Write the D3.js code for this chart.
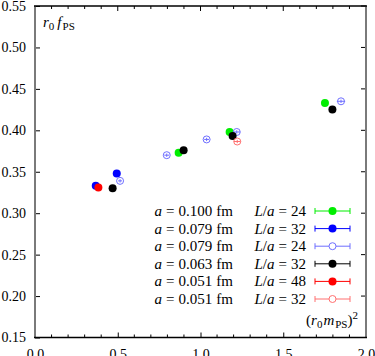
<!DOCTYPE html>
<html>
<head>
<meta charset="utf-8">
<script src="https://cdn.jsdelivr.net/npm/d3@7"></script>
<style>
  html, body { margin: 0; padding: 0; background: #fff; }
  svg { display: block; font-family: "Liberation Serif", "DejaVu Serif", serif; }
</style>
</head>
<body>
<div id="chart"></div>
<script>
// r0 fPS vs (r0 mPS)^2, one series per ensemble
const spacings = ["0.100", "0.079", "0.079", "0.063", "0.051", "0.051"];
const boxSizes = ["24", "32", "24", "32", "48", "32"];
const colors = ["#00ee00", "#0000ff", "#6f6fff", "#000000", "#ff0000", "#ff7070"];
const filled = [true, true, false, true, true, false];

const xValues = [
    [0.868, 1.176, 1.752],
    [0.367, 0.494],
    [0.514, 0.796, 1.037, 1.219, 1.849],
    [0.469, 0.898, 1.194, 1.797],
    [0.383],
    [1.222]
];
const yValues = [
    [0.373, 0.398, 0.433],
    [0.333, 0.348],
    [0.339, 0.370, 0.389, 0.398, 0.435],
    [0.330, 0.376, 0.393, 0.425],
    [0.331],
    [0.3865]
];
const xErrors = [
    [0.012, 0.015, 0.02],
    [0.008, 0.01],
    [0.012, 0.015, 0.015, 0.02, 0.025],
    [0.01, 0.015, 0.015, 0.02],
    [0.008],
    [0.02]
];
const yErrors = [
    [0.002, 0.002, 0.002],
    [0.002, 0.002],
    [0.002, 0.002, 0.002, 0.002, 0.002],
    [0.002, 0.002, 0.002, 0.002],
    [0.002],
    [0.002]
];

const xTicks = [0.0, 0.5, 1.0, 1.5, 2.0];
const yTicks = [0.15, 0.20, 0.25, 0.30, 0.35, 0.40, 0.45, 0.50, 0.55];

const W = 375, H = 356;
const margin = { top: 6, right: 9, bottom: 18.5, left: 35 };
const width = W - margin.left - margin.right;
const height = H - margin.top - margin.bottom;

const svg = d3.select("#chart").append("svg")
    .attr("width", W)
    .attr("height", H);

const g = svg.append("g")
    .attr("transform", `translate(${margin.left},${margin.top})`);

const xScale = d3.scaleLinear().domain([0, 2]).range([0, width]);
const yScale = d3.scaleLinear().domain([0.15, 0.55]).range([height, 0]);

// minor x ticks every 0.1
const minorX = d3.range(0, 2.0001, 0.1).filter(v => Math.abs(v * 2 - Math.round(v * 2)) > 1e-6);

// bottom axis (labels sit partly below the window, as in the original)
const xAxis = g.append("g")
    .attr("transform", `translate(0,${height})`)
    .call(d3.axisBottom(xScale).tickValues(xTicks).tickSize(-5).tickPadding(12)
        .tickFormat(d3.format(".1f")));
xAxis.select(".domain").remove();
xAxis.selectAll("line").attr("stroke", "#000");
xAxis.selectAll("text").attr("font-size", "14px").attr("fill", "#000")
    .attr("font-family", "'Liberation Serif', serif");

g.append("g").attr("transform", `translate(0,${height})`)
    .selectAll("line").data(minorX).enter().append("line")
    .attr("x1", d => xScale(d)).attr("x2", d => xScale(d))
    .attr("y1", 0).attr("y2", -3)
    .attr("stroke", "#000");

// top axis ticks
g.append("g")
    .selectAll("line").data(xTicks).enter().append("line")
    .attr("x1", d => xScale(d)).attr("x2", d => xScale(d))
    .attr("y1", 0).attr("y2", 5)
    .attr("stroke", "#000");
g.append("g")
    .selectAll("line").data(minorX).enter().append("line")
    .attr("x1", d => xScale(d)).attr("x2", d => xScale(d))
    .attr("y1", 0).attr("y2", 3)
    .attr("stroke", "#000");

// left axis
const yAxis = g.append("g")
    .call(d3.axisLeft(yScale).tickValues(yTicks).tickSize(-5).tickPadding(9)
        .tickFormat(d3.format(".2f")));
yAxis.select(".domain").remove();
yAxis.selectAll("line").attr("stroke", "#000");
yAxis.selectAll("text").attr("font-size", "14px").attr("fill", "#000")
    .attr("font-family", "'Liberation Serif', serif");

// right axis ticks
g.append("g")
    .selectAll("line").data(yTicks).enter().append("line")
    .attr("x1", width).attr("x2", width - 5)
    .attr("y1", d => yScale(d)).attr("y2", d => yScale(d))
    .attr("stroke", "#000");

// frame: gray sides, black top/bottom
g.append("line").attr("x1", 0).attr("x2", 0).attr("y1", 0).attr("y2", height)
    .attr("stroke", "#7a7a7a").attr("stroke-width", 2);
g.append("line").attr("x1", width).attr("x2", width).attr("y1", 0).attr("y2", height)
    .attr("stroke", "#7a7a7a").attr("stroke-width", 2);
g.append("line").attr("x1", -1).attr("x2", width + 1).attr("y1", 0).attr("y2", 0)
    .attr("stroke", "#000").attr("stroke-width", 1.5);
g.append("line").attr("x1", -1).attr("x2", width + 1).attr("y1", height).attr("y2", height)
    .attr("stroke", "#000").attr("stroke-width", 1.5);

// data points with error bars
const r = 4;
spacings.forEach(function(a, i) {
    const pts = xValues[i].map((x, j) => ({ x: x, y: yValues[i][j], dx: xErrors[i][j], dy: yErrors[i][j] }));
    const s = g.append("g").attr("class", "series-" + i);
    s.selectAll(".ex").data(pts).enter().append("line")
        .attr("x1", d => xScale(d.x - d.dx)).attr("x2", d => xScale(d.x + d.dx))
        .attr("y1", d => yScale(d.y)).attr("y2", d => yScale(d.y))
        .attr("stroke", colors[i]).attr("stroke-width", 1);
    s.selectAll(".ey").data(pts).enter().append("line")
        .attr("x1", d => xScale(d.x)).attr("x2", d => xScale(d.x))
        .attr("y1", d => yScale(d.y - d.dy)).attr("y2", d => yScale(d.y + d.dy))
        .attr("stroke", colors[i]).attr("stroke-width", 1);
    s.selectAll("circle").data(pts).enter().append("circle")
        .attr("cx", d => xScale(d.x))
        .attr("cy", d => yScale(d.y))
        .attr("r", filled[i] ? r : r - 0.5)
        .attr("fill", filled[i] ? colors[i] : "none")
        .attr("stroke", colors[i])
        .attr("stroke-width", filled[i] ? 0 : 1);
});

// legend
const legend = svg.append("g");
const rowY0 = 211, rowH = 17.6;
spacings.forEach(function(a, i) {
    const y = rowY0 + i * rowH;
    const t1 = legend.append("text")
        .attr("x", 233).attr("y", y + 5)
        .attr("text-anchor", "end")
        .attr("font-size", "15px").attr("fill", "#000");
    t1.append("tspan").attr("font-style", "italic").text("a");
    t1.append("tspan").attr("dx", 4).text("=");
    t1.append("tspan").attr("dx", 4).text(a);
    t1.append("tspan").attr("dx", 4).text("fm");

    const t2 = legend.append("text")
        .attr("x", 306).attr("y", y + 5)
        .attr("text-anchor", "end")
        .attr("font-size", "15px").attr("fill", "#000");
    t2.append("tspan").attr("font-style", "italic").text("L");
    t2.append("tspan").text("/");
    t2.append("tspan").attr("font-style", "italic").text("a");
    t2.append("tspan").attr("dx", 4).text("=");
    t2.append("tspan").attr("dx", 4).text(boxSizes[i]);

    legend.append("line").attr("x1", 315).attr("x2", 350).attr("y1", y).attr("y2", y)
        .attr("stroke", colors[i]).attr("stroke-width", 1);
    legend.append("line").attr("x1", 315).attr("x2", 315).attr("y1", y - 3).attr("y2", y + 3)
        .attr("stroke", colors[i]).attr("stroke-width", 1);
    legend.append("line").attr("x1", 350).attr("x2", 350).attr("y1", y - 3).attr("y2", y + 3)
        .attr("stroke", colors[i]).attr("stroke-width", 1);
    legend.append("circle").attr("cx", 332.5).attr("cy", y)
        .attr("r", filled[i] ? r : r - 0.5)
        .attr("fill", filled[i] ? colors[i] : "#fff")
        .attr("stroke", colors[i])
        .attr("stroke-width", filled[i] ? 0 : 1);
});

// axis labels inside the frame
const yLab = svg.append("text").attr("x", 43).attr("y", 27)
    .attr("font-size", "15px").attr("fill", "#000");
yLab.append("tspan").attr("font-style", "italic").text("r");
yLab.append("tspan").attr("font-size", "11px").attr("dy", 3).text("0");
yLab.append("tspan").attr("font-style", "italic").attr("dy", -3).attr("dx", 3).text("f");
yLab.append("tspan").attr("font-size", "11px").attr("dy", 3).attr("dx", 1).text("PS");

const xLab = svg.append("text").attr("x", 358).attr("y", 325)
    .attr("text-anchor", "end")
    .attr("font-size", "15px").attr("fill", "#000");
xLab.append("tspan").text("(");
xLab.append("tspan").attr("font-style", "italic").text("r");
xLab.append("tspan").attr("font-size", "11px").attr("dy", 3).text("0");
xLab.append("tspan").attr("font-style", "italic").attr("dy", -3).attr("dx", 1).text("m");
xLab.append("tspan").attr("font-size", "11px").attr("dy", 3).attr("dx", 1).text("PS");
xLab.append("tspan").attr("dy", -3).text(")");
xLab.append("tspan").attr("font-size", "11px").attr("dy", -6).text("2");
</script>
</body>
</html>
